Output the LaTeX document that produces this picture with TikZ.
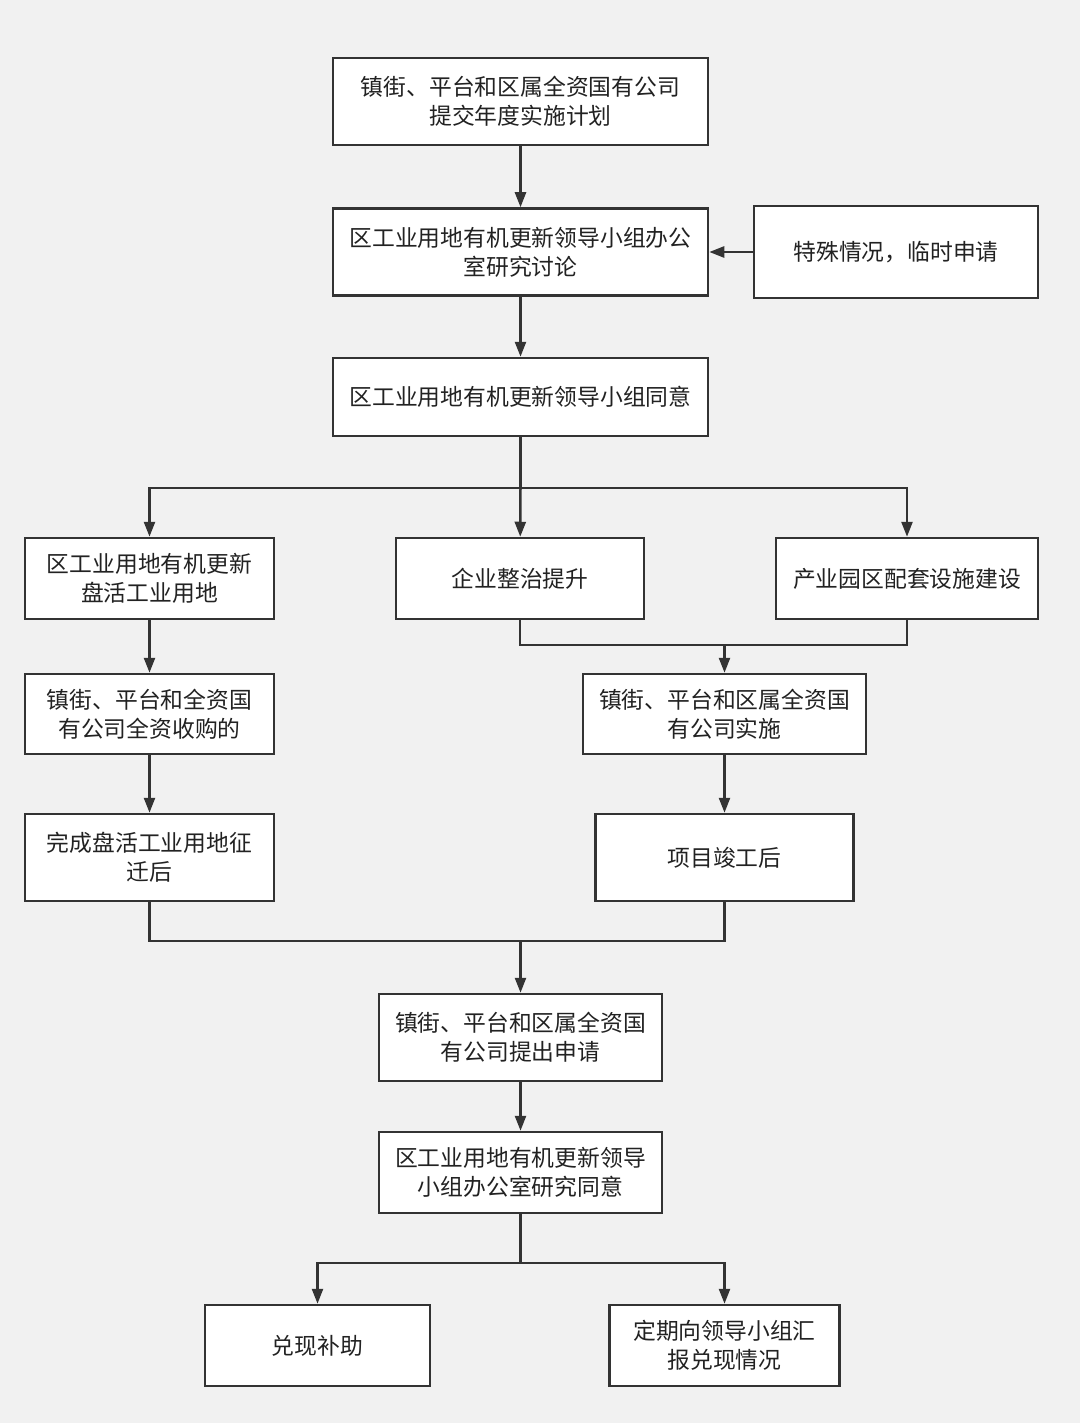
\documentclass[tikz,border=0pt]{standalone}
\usepackage{fontspec}
\setmainfont{Noto Sans CJK SC}
\usetikzlibrary{arrows.meta}
\definecolor{bg}{HTML}{F1F1F1}
\definecolor{ln}{HTML}{333333}
\definecolor{tx}{HTML}{222222}
\begin{document}
\begin{tikzpicture}[x=1pt,y=-1pt,
  box/.style n args={2}{draw=ln, fill=white, line width=2.5pt, align=center,
    text=tx, inner sep=0pt, font=\fontsize{22.8}{29}\selectfont,
    minimum width=#1, minimum height=#2},
  lin/.style={draw=ln, line width=2.5pt},
  arr/.style={lin, -{Triangle[length=15pt,width=11pt]}}]
\fill[bg] (0,0) rectangle (1080,1423);
\useasboundingbox (0,0) rectangle (1080,1423);

\node[box={375pt}{87pt}] (n1) at (520.5,101.5) {镇街、平台和区属全资国有公司\\提交年度实施计划};
\node[box={375pt}{87pt}] (n2) at (520.5,252) {区工业用地有机更新领导小组办公\\室研究讨论};
\node[box={284pt}{92pt}] (n3) at (896,252) {特殊情况，临时申请};
\node[box={375pt}{78pt}] (n4) at (520.5,397) {区工业用地有机更新领导小组同意};
\node[box={249pt}{81pt}] (n5) at (149.5,578.5) {区工业用地有机更新\\盘活工业用地};
\node[box={248pt}{81pt}] (n6) at (520,578.5) {企业整治提升};
\node[box={262pt}{81pt}] (n7) at (907,578.5) {产业园区配套设施建设};
\node[box={249pt}{80pt}] (n8) at (149.5,714) {镇街、平台和全资国\\有公司全资收购的};
\node[box={283pt}{80pt}] (n9) at (724.5,714) {镇街、平台和区属全资国\\有公司实施};
\node[box={249pt}{87pt}] (n10) at (149.5,857.5) {完成盘活工业用地征\\迁后};
\node[box={258pt}{87pt}] (n11) at (724.5,857.5) {项目竣工后};
\node[box={283pt}{87pt}] (n12) at (520.5,1037.5) {镇街、平台和区属全资国\\有公司提出申请};
\node[box={283pt}{81pt}] (n13) at (520.5,1172.5) {区工业用地有机更新领导\\小组办公室研究同意};
\node[box={225pt}{81pt}] (n14) at (317.5,1345.5) {兑现补助};
\node[box={230pt}{81pt}] (n15) at (724.5,1345.5) {定期向领导小组汇\\报兑现情况};

\coordinate (j1) at (520.5,488);
\coordinate (j2) at (724.5,645);
\coordinate (j3) at (520.5,941);
\coordinate (j4) at (520.5,1263);

\draw[arr] (n1) -- (n2);
\draw[arr] (n3.west) -- (n3.west -| n2.east);
\draw[arr] (n2) -- (n4);
\draw[lin] (n4) -- (j1);
\draw[arr] (j1) -| (n5);
\draw[arr] (j1) -- (n6);
\draw[arr] (j1) -| (n7);
\draw[lin] (n6) |- (j2);
\draw[lin] (n7) |- (j2);
\draw[arr] (j2) -- (n9);
\draw[arr] (n5) -- (n8);
\draw[arr] (n8) -- (n10);
\draw[arr] (n9) -- (n11);
\draw[lin] (n10) |- (j3);
\draw[lin] (n11) |- (j3);
\draw[arr] (j3) -- (n12);
\draw[arr] (n12) -- (n13);
\draw[lin] (n13) -- (j4);
\draw[arr] (j4) -| (n14);
\draw[arr] (j4) -| (n15);
\end{tikzpicture}
\end{document}
